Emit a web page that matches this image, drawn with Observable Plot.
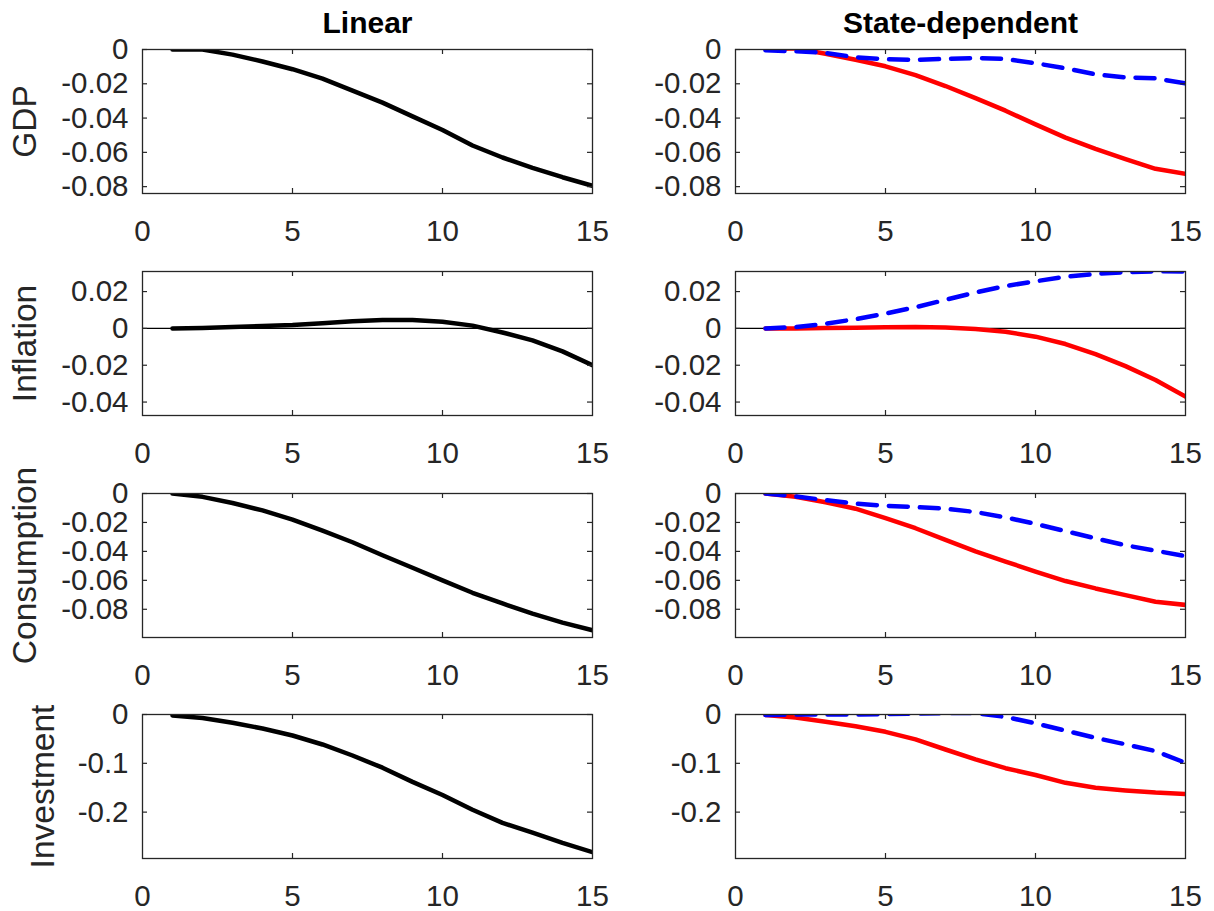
<!DOCTYPE html>
<html><head><meta charset="utf-8">
<script src="https://cdn.jsdelivr.net/npm/d3@7"></script>
<script src="https://cdn.jsdelivr.net/npm/@observablehq/plot@0.6"></script>
<style>
body{margin:0;background:#fff;}
#wrap{position:relative;width:1214px;height:911px;overflow:hidden;background:#fff;}
#wrap svg{position:absolute;overflow:visible;background:transparent;}
</style></head><body><div id="wrap"></div>
<script>
// ---- data ----
const horizon = [1,2,3,4,5,6,7,8,9,10,11,12,13,14,15];
const xTicks = [0,5,10,15];
const columnTitles = ["Linear","State-dependent"];
const variables = ["GDP","Inflation","Consumption","Investment"];

const gdpLinear = [0,0,-0.003,-0.007,-0.0115,-0.017,-0.024,-0.031,-0.039,-0.047,-0.056,-0.063,-0.069,-0.0745,-0.0795];
const gdpStateRed = [0,0.0007,-0.0025,-0.006,-0.0098,-0.015,-0.0213,-0.0284,-0.0357,-0.0437,-0.0514,-0.058,-0.064,-0.0696,-0.0725];
const gdpStateBlue = [-0.0005,-0.001,-0.002,-0.0045,-0.0057,-0.006,-0.0055,-0.005,-0.0055,-0.008,-0.011,-0.0145,-0.0163,-0.0168,-0.0198];
const gdpTicks = [-0.08,-0.06,-0.04,-0.02,0];
const gdpRange = [-0.084,0];

const inflLinear = [0,0.0002,0.0007,0.0013,0.0018,0.0028,0.0039,0.0046,0.0045,0.0036,0.0015,-0.0022,-0.0065,-0.0125,-0.02];
const inflStateRed = [0,0,0.0002,0.0004,0.0006,0.0008,0.0005,-0.0003,-0.0018,-0.0045,-0.0085,-0.014,-0.0205,-0.028,-0.037];
const inflStateBlue = [0,0.0007,0.0025,0.005,0.008,0.0115,0.0155,0.0195,0.023,0.0256,0.028,0.0296,0.0305,0.031,0.0309];
const inflTicks = [-0.04,-0.02,0,0.02];
const inflRange = [-0.0473,0.0309];

const consLinear = [0,-0.0023,-0.0066,-0.0117,-0.018,-0.0257,-0.0337,-0.0427,-0.0513,-0.06,-0.0686,-0.076,-0.083,-0.0892,-0.0945];
const consStateRed = [0,-0.0023,-0.006,-0.0105,-0.017,-0.024,-0.032,-0.04,-0.047,-0.054,-0.0605,-0.0656,-0.0702,-0.0748,-0.077];
const consStateBlue = [0,-0.002,-0.0046,-0.007,-0.0085,-0.0094,-0.0105,-0.0128,-0.0165,-0.021,-0.026,-0.031,-0.0358,-0.0395,-0.0433];
const consTicks = [-0.08,-0.06,-0.04,-0.02,0];
const consRange = [-0.0995,0];

const invLinear = [-0.002,-0.007,-0.017,-0.0287,-0.043,-0.0614,-0.084,-0.109,-0.138,-0.165,-0.195,-0.222,-0.242,-0.263,-0.282];
const invStateRed = [-0.001,-0.006,-0.015,-0.024,-0.0355,-0.051,-0.0717,-0.092,-0.11,-0.124,-0.14,-0.15,-0.1556,-0.16,-0.163];
const invStateBlue = [-0.001,0,0,0,0.001,0.002,0.003,0.003,-0.005,-0.018,-0.033,-0.048,-0.061,-0.075,-0.099];
const invTicks = [-0.2,-0.1,0];
const invRange = [-0.295,0];

// ---- layout ----
const rows = [
  {label: variables[0], linear: gdpLinear, red: gdpStateRed, blue: gdpStateBlue, ticks: gdpTicks, range: gdpRange},
  {label: variables[1], linear: inflLinear, red: inflStateRed, blue: inflStateBlue, ticks: inflTicks, range: inflRange},
  {label: variables[2], linear: consLinear, red: consStateRed, blue: consStateBlue, ticks: consTicks, range: consRange},
  {label: variables[3], linear: invLinear, red: invStateRed, blue: invStateBlue, ticks: invTicks, range: invRange}
];
const rowTops = [49, 271, 492.5, 714];
const frameH = 144, frameW = 450;
const colLefts = [142, 735];
const labelDx = [-117, -117, -117, -99];
const AX = "#262626";
const wrap = document.getElementById("wrap");

rows.forEach((r, ri) => {
  [0,1].forEach(ci => {
    const mT = 40, mB = 37;
    const svgLeft = ci === 0 ? 0 : 607;
    const mL = colLefts[ci] - svgLeft;
    const W = 607;
    const mR = W - mL - frameW;
    const H = mT + frameH + mB;
    const marks = [
      Plot.ruleY([0], {stroke: "#000", strokeWidth: 1.2}),
    ];
    if (ci === 0) {
      marks.push(Plot.line(r.linear, {x: horizon, y: r.linear, stroke: "#000", strokeWidth: 4.5, strokeLinejoin: "round", clip: true}));
    } else {
      marks.push(Plot.line(r.red, {x: horizon, y: r.red, stroke: "#ff0000", strokeWidth: 4.5, strokeLinejoin: "round", clip: true}));
      marks.push(Plot.line(r.blue, {x: horizon, y: r.blue, stroke: "#0000ff", strokeWidth: 4.5, strokeDasharray: "19,12", strokeLinejoin: "round", clip: true}));
    }
    const innerX = xTicks.slice(1, -1);
    marks.push(
      Plot.frame({stroke: AX, strokeWidth: 1.3}),
      Plot.tickX(innerX, {x: d => d, insetTop: frameH - 5, stroke: AX, strokeWidth: 1.2}),
      Plot.tickX(innerX, {x: d => d, insetBottom: frameH - 5, stroke: AX, strokeWidth: 1.2}),
      Plot.tickY(r.ticks, {y: d => d, insetRight: frameW - 5, stroke: AX, strokeWidth: 1.2}),
      Plot.tickY(r.ticks, {y: d => d, insetLeft: frameW - 5, stroke: AX, strokeWidth: 1.2}),
      Plot.axisX({ticks: xTicks, tickSize: 0, tickPadding: 27, tickFormat: d => String(d), label: null, fill: AX}),
      Plot.axisY({ticks: r.ticks, tickSize: 0, tickPadding: 14, tickFormat: d => String(d), label: null, fill: AX})
    );
    if (ri === 0) {
      marks.push(Plot.text([columnTitles[ci]], {frameAnchor: "top", dy: -26, lineAnchor: "middle", fontWeight: "bold", fontSize: 30, fill: "#000"}));
    }
    if (ci === 0) {
      marks.push(Plot.text([r.label], {frameAnchor: "left", dx: labelDx[ri], rotate: -90, textAnchor: "middle", lineAnchor: "middle", fontSize: 33.5, fill: AX}));
    }
    const svg = Plot.plot({
      width: W, height: H,
      marginLeft: mL, marginRight: mR, marginTop: mT, marginBottom: mB,
      x: {domain: [0, 15]},
      y: {domain: r.range},
      style: {fontFamily: "'Liberation Sans', Arial, Helvetica, sans-serif", fontSize: "29.5px", color: AX, background: "transparent", overflow: "visible"},
      marks
    });
    svg.style.left = svgLeft + "px";
    svg.style.top = (rowTops[ri] - mT) + "px";
    wrap.appendChild(svg);
  });
});
</script></body></html>
